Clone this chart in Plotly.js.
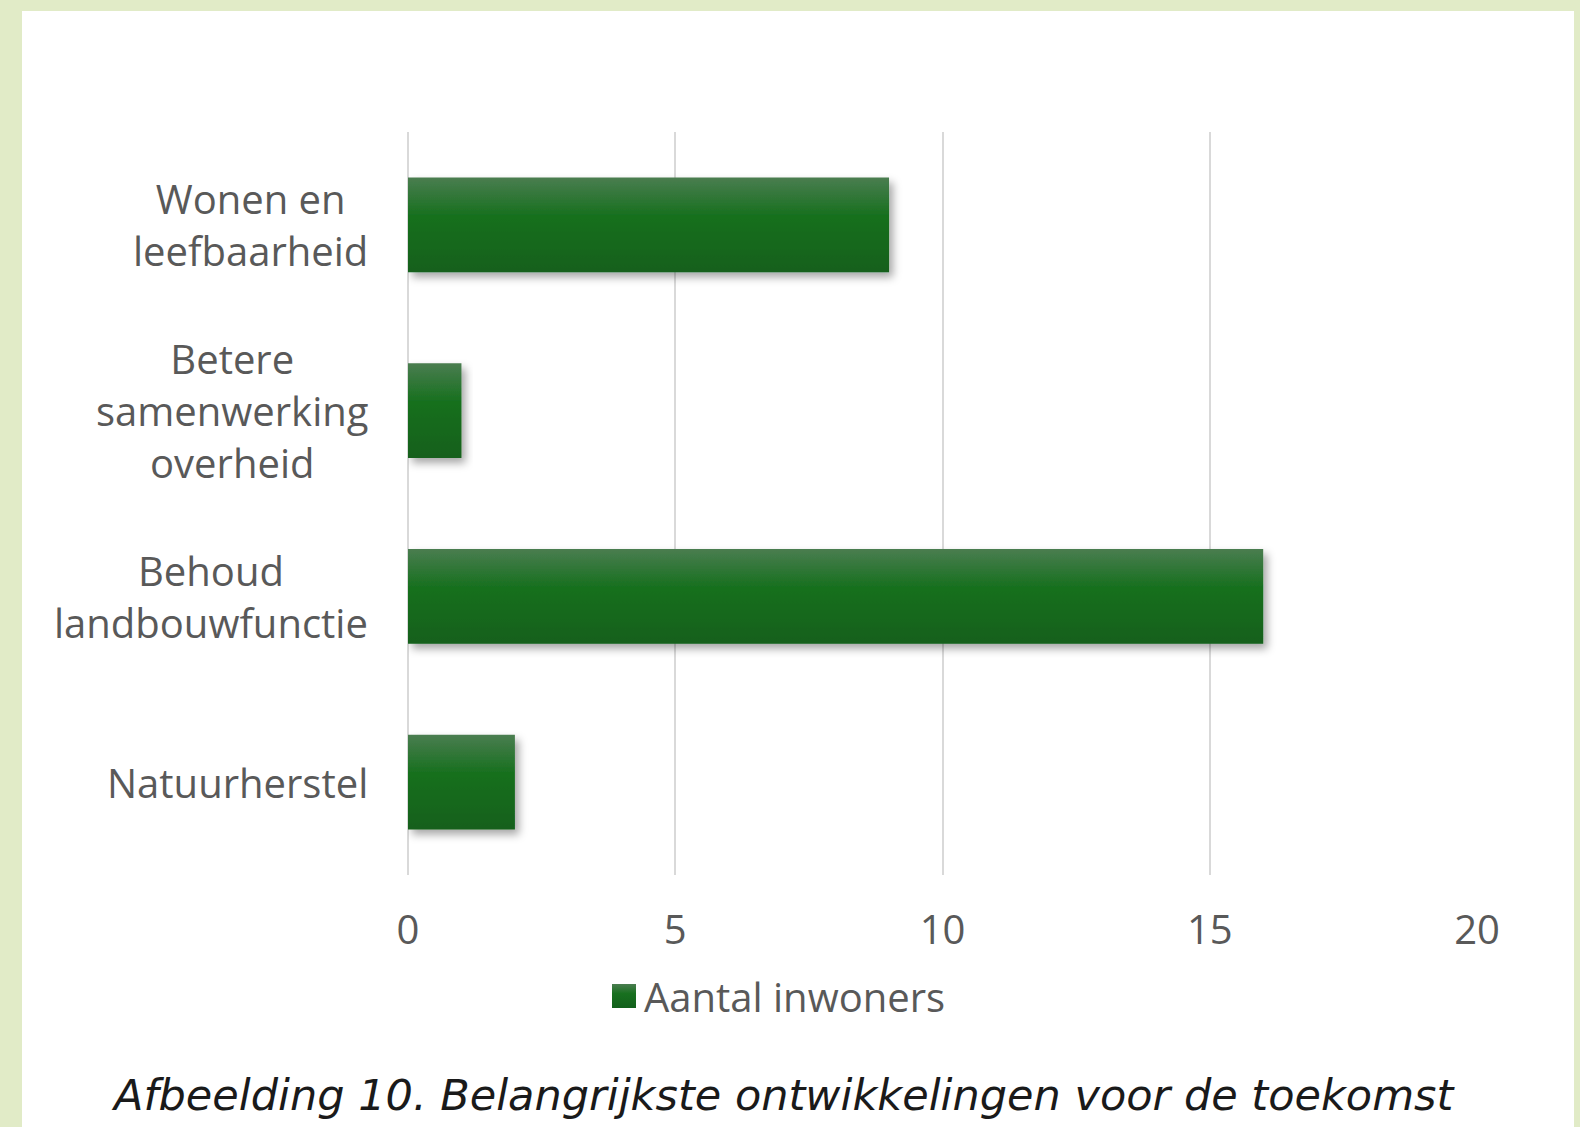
<!DOCTYPE html>
<html>
<head>
<meta charset="utf-8">
<script src="https://cdn.plot.ly/plotly-3.0.1.min.js"></script>
<style>
  html, body { margin: 0; padding: 0; background: #e1ebc7; width: 1580px; height: 1127px; overflow: hidden; }
  #chart { position: absolute; left: 22px; top: 11px; width: 1552px; height: 1116px; background: #ffffff; }
</style>
</head>
<body>
<div id="chart"></div>
<script>
// Data
const categories = ['Wonen en leefbaarheid', 'Betere samenwerking overheid', 'Behoud landbouwfunctie', 'Natuurherstel'];
const tickLabels = ['Wonen en<br>leefbaarheid', 'Betere<br>samenwerking<br>overheid', 'Behoud<br>landbouwfunctie', 'Natuurherstel'];
const values = [9, 1, 16, 2];
const seriesName = 'Aantal inwoners';
const xTicks = [0, 5, 10, 15, 20];
const caption = 'Afbeelding 10. Belangrijkste ontwikkelingen voor de toekomst';

const labelFont = { family: 'Open Sans, Noto Sans, sans-serif', size: 40, color: '#595959' };

const trace = {
  type: 'bar',
  orientation: 'h',
  y: categories,
  x: values,
  name: seriesName,
  width: 0.51,
  marker: { color: '#156a1f', line: { width: 0 } },
  showlegend: true,
  hoverinfo: 'none'
};

const annotations = categories.map((c, i) => ({
  xref: 'paper', yref: 'y',
  x: 0, y: c,
  xanchor: 'right', yanchor: 'middle',
  xshift: -38,
  align: 'center',
  text: tickLabels[i],
  showarrow: false,
  font: labelFont
}));

annotations.push({
  xref: 'paper', yref: 'paper',
  x: (761 - 386) / 1069, y: -(1084 - 864) / 743,
  xanchor: 'center', yanchor: 'middle',
  text: '<i>' + caption + '</i>',
  showarrow: false,
  font: { family: 'DejaVu Sans, Verdana, sans-serif', size: 43, color: '#1a1a1a' }
});

const layout = {
  width: 1552, height: 1116,
  margin: { l: 386, r: 97, t: 121, b: 252 },
  paper_bgcolor: '#ffffff',
  plot_bgcolor: '#ffffff',
  xaxis: {
    range: [0, 20],
    tickvals: xTicks,
    ticktext: xTicks.map(String),
    showgrid: true,
    gridcolor: '#d9d9d9',
    gridwidth: 2,
    zeroline: true,
    zerolinecolor: '#d9d9d9',
    zerolinewidth: 2,
    showline: false,
    ticks: 'outside',
    ticklen: 20,
    tickcolor: 'rgba(0,0,0,0)',
    tickfont: labelFont,
    fixedrange: true
  },
  yaxis: {
    type: 'category',
    categoryorder: 'array',
    categoryarray: categories,
    autorange: 'reversed',
    showticklabels: false,
    showgrid: false,
    zeroline: false,
    showline: false,
    ticks: '',
    fixedrange: true
  },
  showlegend: true,
  legend: {
    orientation: 'h',
    x: (582 - 386) / 1069, xanchor: 'left',
    y: -(985 - 864) / 743, yanchor: 'middle',
    font: labelFont,
    itemwidth: 30,
    bgcolor: 'rgba(0,0,0,0)'
  },
  annotations: annotations,
  bargap: 0.49
};

Plotly.newPlot('chart', [trace], layout, { staticPlot: true, displayModeBar: false }).then(gd => {
  const svg = gd.querySelector('svg.main-svg');
  const ns = 'http://www.w3.org/2000/svg';
  let defs = svg.querySelector('defs');
  if (!defs) { defs = document.createElementNS(ns, 'defs'); svg.insertBefore(defs, svg.firstChild); }
  const grad = document.createElementNS(ns, 'linearGradient');
  grad.setAttribute('id', 'barGrad');
  grad.setAttribute('x1', '0'); grad.setAttribute('y1', '0');
  grad.setAttribute('x2', '0'); grad.setAttribute('y2', '1');
  [['0', '#4a7d50'], ['0.4', '#18701f'], ['1', '#12601b']].forEach(([o, c]) => {
    const s = document.createElementNS(ns, 'stop');
    s.setAttribute('offset', o); s.setAttribute('stop-color', c);
    grad.appendChild(s);
  });
  defs.appendChild(grad);
  const filt = document.createElementNS(ns, 'filter');
  filt.setAttribute('id', 'barShadow');
  filt.setAttribute('x', '-10%'); filt.setAttribute('y', '-20%');
  filt.setAttribute('width', '130%'); filt.setAttribute('height', '160%');
  const ds = document.createElementNS(ns, 'feDropShadow');
  ds.setAttribute('dx', '4'); ds.setAttribute('dy', '5');
  ds.setAttribute('stdDeviation', '4');
  ds.setAttribute('flood-color', '#000'); ds.setAttribute('flood-opacity', '0.35');
  filt.appendChild(ds);
  defs.appendChild(filt);
  gd.querySelectorAll('.barlayer .point path').forEach(p => {
    p.style.fill = 'url(#barGrad)';
    p.setAttribute('filter', 'url(#barShadow)');
  });
  gd.querySelectorAll('.legendpoints path').forEach(p => {
    p.style.fill = 'url(#barGrad)';
    p.setAttribute('transform', (p.getAttribute('transform') || '') + ' scale(2)');
  });
});
</script>
</body>
</html>
